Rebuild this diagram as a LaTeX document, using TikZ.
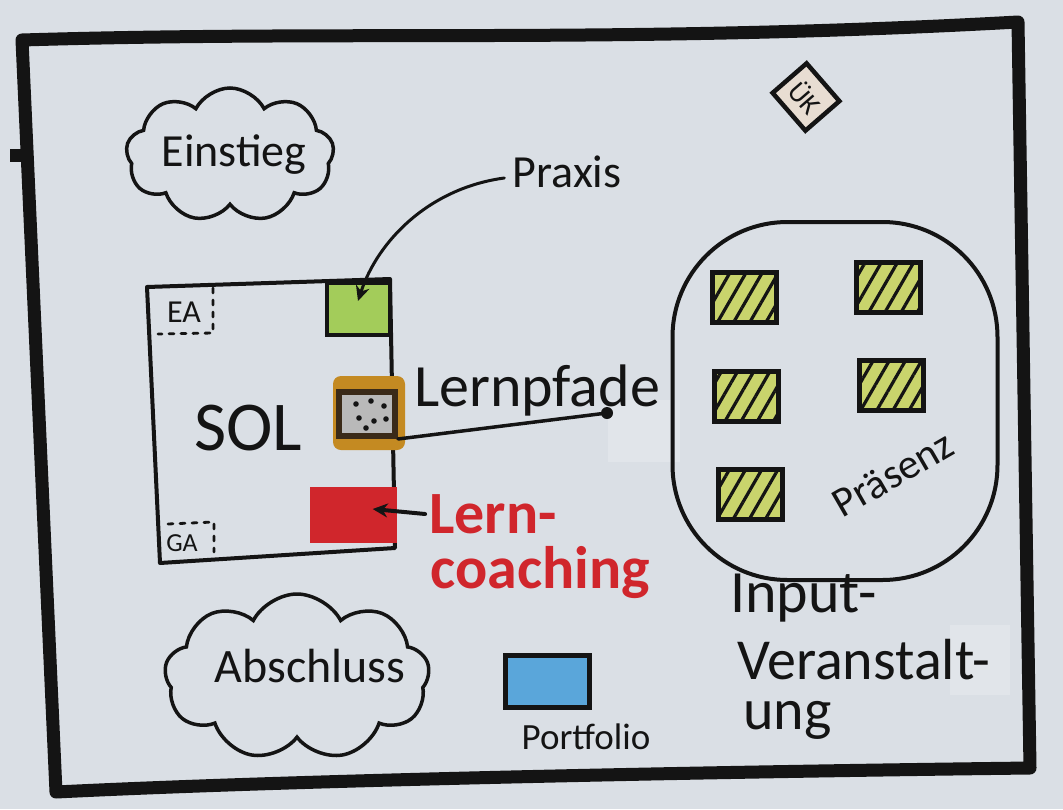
\documentclass[tikz,border=0pt]{standalone}
\usepackage{fontspec}
\setmainfont{Carlito}
\usetikzlibrary{shapes.symbols,shapes.geometric,arrows.meta,patterns.meta,calc}
\definecolor{paper}{HTML}{DADFE5}
\definecolor{ink}{HTML}{141414}
\definecolor{praxisgreen}{HTML}{A3CC5A}
\definecolor{hatchgreen}{HTML}{C9D46C}
\definecolor{halo}{HTML}{C48A22}
\definecolor{darkbrown}{HTML}{3A2A18}
\definecolor{coachred}{HTML}{D0262C}
\definecolor{portblue}{HTML}{5AA6DA}
\definecolor{beige}{HTML}{E8DDD2}
\newcommand{\fs}[1]{\fontsize{#1}{#1}\selectfont}
\begin{document}
\begin{tikzpicture}[x=1pt,y=-1pt,
  every node/.style={inner sep=0pt, text=ink},
  thinline/.style={draw=ink, line width=4pt, line join=round, line cap=round},
  cloudnode/.style={cloud, draw=ink, line width=3.5pt, cloud puffs=9, cloud puff arc=125, aspect=1.6},
  hsq/.style={draw=ink, line width=5pt, preaction={fill=hatchgreen},
    pattern={Lines[angle=60,distance=14pt,line width=3.2pt]}, pattern color=ink,
    minimum width=64pt, minimum height=50pt},
  cornerdots/.style={draw=ink, line width=2.8pt, dash pattern=on 5pt off 7pt, line cap=round},
  arrowtip/.style={-{Stealth[length=15pt,width=14pt]}}
]
\useasboundingbox (0,0) rectangle (1063,809);
\fill[paper] (0,0) rectangle (1063,809);
% faint tape patches
\fill[white, opacity=0.2] (608,400) rectangle (680,462);
\fill[white, opacity=0.2] (950,625) rectangle (1010,695);

% main frame
\draw[draw=ink, line width=13pt, line join=round, line cap=round]
  (22,40) .. controls (350,30) and (620,44) .. (1018,22)
  -- (1030,768) .. controls (700,772) and (300,780) .. (56,792)
  -- cycle;
\draw[draw=ink, line width=13pt] (10,155) -- (30,155);

% clouds
\node[cloudnode, minimum width=208pt, minimum height=134pt] (einsteigcloud) at (230,155) {};
\node (einstieg) at (234,155) {\fs{46}Einstieg};
\node[cloudnode, minimum width=265pt, minimum height=166pt] (abschlusscloud) at (297,677) {};
\node (abschluss) at (310,666) {\fs{48}Abschluss};

% SOL box contents
\node[draw=ink, line width=4pt, fill=praxisgreen, minimum width=63pt, minimum height=52pt] (gruen) at (358,309) {};
\draw[thinline] (147,287) -- (390,279) -- (395,548) -- (160,563) -- cycle;
\node (sol) at (248,428) {\fs{70}SOL};
\node (ea) at (184,312) {\fs{32}EA};
\draw[cornerdots] (213,288) -- (213,333) -- (158,334);
\node (ga) at (182,543) {\fs{26}GA};
\draw[cornerdots] (168,524) -- (214,522) -- (214,552);

% Lernpfade icon
\node[fill=halo, rounded corners=8pt, minimum width=72pt, minimum height=74pt] (halo) at (369,413) {};
\node[draw=darkbrown, line width=6pt, fill=gray!55, minimum width=56pt, minimum height=44pt] (pfad) at (367,414) {};
\foreach \p in {(356,404),(371,401),(384,406),(359,418),(374,421),(386,419),(366,428)}
  \fill[ink] \p circle (2.8);
\coordinate (pfadend) at (607,413);
\draw[thinline, line width=3.5pt] (pfad.south east) -- (pfadend);
\fill[ink] (pfadend) circle (6);
\node (lernpfade) at (537,390) {\fs{60}Lernpfade};

% Praxis
\node (praxis) at (567,172) {\fs{46}Praxis};
\draw[thinline, line width=3pt, arrowtip] ([xshift=-8pt,yshift=-6pt]praxis.west) .. controls (430,188) and (378,240) .. ($(gruen.center)+(0,-8)$);

% Lern-coaching
\node[fill=coachred, minimum width=87pt, minimum height=56pt] (coach) at (353,515) {};
\node[text=coachred, font=\bfseries] (lern) at (493,514) {\fs{60}Lern-};
\node[text=coachred, font=\bfseries] (coaching) at (540,573) {\fs{60}coaching};
\draw[thinline, arrowtip] ([xshift=-4pt]lern.west) -- ($(coach.east)+(-24,-6)$);

% Praesenz
\draw[draw=ink, line width=4pt, rounded corners=115pt] (672.5,222) rectangle (997.5,580);
\node[hsq] (s1) at (744,297) {};
\node[hsq] (s2) at (888,287) {};
\node[hsq] (s3) at (746,396) {};
\node[hsq] (s4) at (891,385) {};
\node[hsq] (s5) at (750,494) {};
\node[rotate=30] (praesenztext) at (893,474) {\fs{42}Präsenz};

% Input-Veranstaltung
\node[anchor=base west] (input1) at (730,612) {\fs{60}Input-};
\node[anchor=base west] (input2) at (737,679) {\fs{58}Veranstalt-};
\node[anchor=base west] (input3) at (743,729) {\fs{58}ung};

% Portfolio
\node[draw=ink, line width=5pt, fill=portblue, minimum width=84pt, minimum height=52pt] (portfolio) at (547,681) {};
\node (portfoliotext) at (586,737) {\fs{37}Portfolio};

% ÜK
\node[draw=ink, line width=4.5pt, fill=beige, minimum width=50pt, minimum height=45pt, rotate=-49] (uek) at (806,97) {\fs{28}ÜK};
\end{tikzpicture}
\end{document}
